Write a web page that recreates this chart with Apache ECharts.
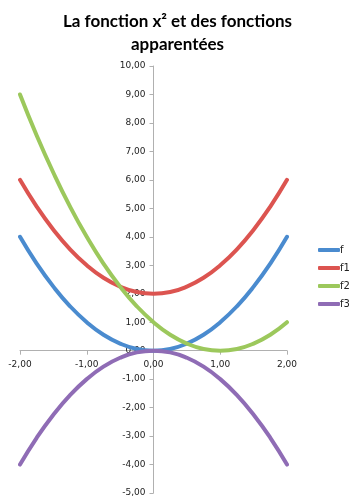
<!DOCTYPE html>
<html>
<head>
<meta charset="utf-8">
<script src="https://cdn.jsdelivr.net/npm/echarts@6/dist/echarts.min.js"></script>
<style>
html, body { margin: 0; padding: 0; background: #fff; }
#chart { width: 355px; height: 503px; }
</style>
</head>
<body>
<div id="chart"></div>
<script>
// x values and the four curves
var xs = [-2, -1.75, -1.5, -1.25, -1, -0.75, -0.5, -0.25, 0, 0.25, 0.5, 0.75, 1, 1.25, 1.5, 1.75, 2]
var f = [4, 3.06, 2.25, 1.56, 1, 0.56, 0.25, 0.06, 0, 0.06, 0.25, 0.56, 1, 1.56, 2.25, 3.06, 4]
var f1 = [6, 5.06, 4.25, 3.56, 3, 2.56, 2.25, 2.06, 2, 2.06, 2.25, 2.56, 3, 3.56, 4.25, 5.06, 6]
var f2 = [9, 7.56, 6.25, 5.06, 4, 3.06, 2.25, 1.56, 1, 0.56, 0.25, 0.06, 0, 0.06, 0.25, 0.56, 1]
var f3 = [-4, -3.06, -2.25, -1.56, -1, -0.56, -0.25, -0.06, 0, -0.06, -0.25, -0.56, -1, -1.56, -2.25, -3.06, -4]
var seriesNames = ['f', 'f1', 'f2', 'f3']
var colors = ['#4a8bcf', '#dc5450', '#9cc85c', '#8f6cb5']

var xMin = -2, xMax = 2, yMin = -5, yMax = 10

function pairs(ys) {
  return xs.map(function (x, i) { return [x, ys[i]] })
}

function fmt(v) {
  return v.toFixed(2).replace('.', ',')
}

// grid box
var gLeft = 20, gRight = 68, gTop = 66, gBottom = 10
var gW = 355 - gLeft - gRight
var gH = 503 - gTop - gBottom
// move the axes (with their labels) onto the zero lines
var yAxisOffset = -gW * (0 - xMin) / (xMax - xMin)
var xAxisOffset = -gH * (0 - yMin) / (yMax - yMin)

var myChart = echarts.init(document.getElementById('chart'))
var lines = [f, f1, f2, f3]

myChart.setOption({
  animation: false,
  title: {
    text: 'La fonction x² et des fonctions\napparentées',
    left: 'center',
    top: 5,
    textStyle: {
      fontFamily: 'Lato',
      fontWeight: 'bold',
      fontSize: 17,
      lineHeight: 23,
      color: '#000'
    }
  },
  legend: {
    orient: 'vertical',
    left: 313,
    top: 240,
    itemWidth: 22,
    itemHeight: 4,
    itemGap: 8,
    icon: 'roundRect',
    textStyle: {
      fontFamily: 'DejaVu Sans',
      fontSize: 10,
      color: '#222',
      padding: [0, 0, 0, -5]
    },
    data: seriesNames
  },
  grid: {
    left: gLeft,
    right: gRight,
    top: gTop,
    bottom: gBottom
  },
  xAxis: {
    type: 'value',
    min: xMin,
    max: xMax,
    interval: 1,
    position: 'bottom',
    offset: xAxisOffset,
    splitLine: { show: false },
    axisLine: { onZero: false, lineStyle: { color: '#b0b0b0', width: 1 } },
    axisTick: { show: true, length: 4, lineStyle: { color: '#b0b0b0' } },
    axisLabel: {
      formatter: fmt,
      fontFamily: 'DejaVu Sans',
      fontSize: 9,
      color: '#222',
      margin: 9
    }
  },
  yAxis: {
    type: 'value',
    min: yMin,
    max: yMax,
    interval: 1,
    position: 'left',
    offset: yAxisOffset,
    splitLine: { show: false },
    axisLine: { onZero: false, lineStyle: { color: '#b0b0b0', width: 1 } },
    axisTick: { show: true, length: 4, lineStyle: { color: '#b0b0b0' } },
    axisLabel: {
      formatter: fmt,
      fontFamily: 'DejaVu Sans',
      fontSize: 9,
      color: '#222',
      margin: 8
    }
  },
  series: lines.map(function (ys, i) {
    return {
      name: seriesNames[i],
      type: 'line',
      data: pairs(ys),
      smooth: true,
      symbol: 'none',
      clip: false,
      color: colors[i],
      lineStyle: { width: 4, color: colors[i], cap: 'round' }
    }
  })
})
</script>
</body>
</html>
